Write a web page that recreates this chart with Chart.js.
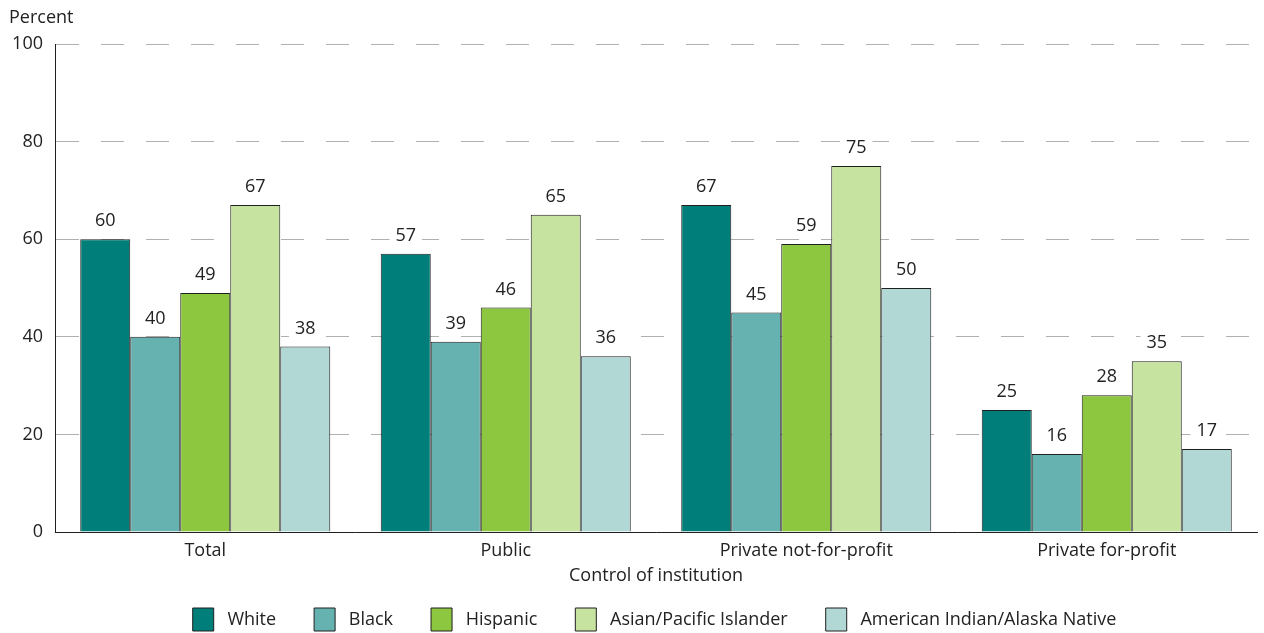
<!DOCTYPE html>
<html lang="en">
<head>
<meta charset="UTF-8">
<title>Percent by control of institution</title>
<script src="https://cdn.jsdelivr.net/npm/chart.js"></script>
<style>
  html, body { margin: 0; padding: 0; background: #fff; }
  #wrap { width: 1264px; height: 633px; position: relative; }
</style>
</head>
<body>
<div id="wrap"><canvas id="chart"></canvas></div>
<script>
const categories = ['Total', 'Public', 'Private not-for-profit', 'Private for-profit'];
const white    = [60, 57, 67, 25];
const black    = [40, 39, 45, 16];
const hispanic = [49, 46, 59, 28];
const asianPI  = [67, 65, 75, 35];
const aian     = [38, 36, 50, 17];
const yTicks   = [0, 20, 40, 60, 80, 100];

const FONT = "'Open Sans', sans-serif";
const SIZE = 18;
const INK = '#222';
const LEGEND_PAD = 38;

// value labels above bars, white backing breaks the grid line
const valueLabels = {
  id: 'valueLabels',
  afterDatasetsDraw(chart) {
    const ctx = chart.ctx;
    ctx.save();
    ctx.font = SIZE + 'px ' + FONT;
    ctx.textAlign = 'center';
    ctx.textBaseline = 'middle';
    chart.data.datasets.forEach((ds, i) => {
      chart.getDatasetMeta(i).data.forEach((bar, j) => {
        const txt = String(ds.data[j]);
        const w = ctx.measureText(txt).width + 12;
        ctx.fillStyle = '#fff';
        ctx.fillRect(bar.x - w / 2, bar.y - 29, w, 22);
        ctx.fillStyle = INK;
        ctx.fillText(txt, bar.x, bar.y - 18);
      });
    });
    ctx.restore();
  }
};

// axis headings drawn as text
const headings = {
  id: 'headings',
  afterDraw(chart) {
    const ctx = chart.ctx;
    const a = chart.chartArea;
    ctx.save();
    ctx.font = SIZE + 'px ' + FONT;
    ctx.fillStyle = INK;
    ctx.textBaseline = 'middle';
    ctx.fillText('Percent', 9, 18);
    ctx.textAlign = 'center';
    ctx.fillText('Control of institution', (a.left + a.right) / 2, 576);
    ctx.restore();
  }
};

// fixed legend height, items start at y=608, nudged right
const legendFit = {
  id: 'legendFit',
  afterInit(chart) {
    const lg = chart.legend;
    const orig = lg.fit;
    lg.fit = function () { orig.call(this); this.height = 55; };
  },
  afterLayout(chart) {
    const lg = chart.legend;
    lg.top = 608 - LEGEND_PAD;
    lg.bottom = chart.height;
    lg.height = lg.bottom - lg.top;
    lg.left += 26;
    lg.right += 26;
  }
};

const edge = '#1f1f1f';
function ds(label, data, color) {
  return { label, data, backgroundColor: color, borderColor: edge, borderWidth: 1 };
}

new Chart(document.getElementById('chart'), {
  type: 'bar',
  data: {
    labels: categories,
    datasets: [
      ds('White', white, '#007f7a'),
      ds('Black', black, '#66b2b0'),
      ds('Hispanic', hispanic, '#8dc63f'),
      ds('Asian/Pacific Islander', asianPI, '#c7e3a0'),
      ds('American Indian/Alaska Native', aian, '#b2d8d6')
    ]
  },
  options: {
    responsive: true,
    maintainAspectRatio: false,
    animation: false,
    layout: { padding: { top: 44, right: 7, left: 0, bottom: 0 } },
    datasets: { bar: { barPercentage: 1, categoryPercentage: 0.832 } },
    plugins: {
      legend: {
        position: 'bottom',
        labels: {
          font: { family: FONT, size: SIZE },
          color: INK,
          boxWidth: 21,
          boxHeight: 23,
          padding: LEGEND_PAD,
          generateLabels(chart) {
            return Chart.defaults.plugins.legend.labels.generateLabels(chart)
              .map(item => Object.assign(item, { text: ' ' + item.text }));
          }
        }
      },
      tooltip: { enabled: false }
    },
    scales: {
      x: {
        grid: { display: false },
        border: { color: edge, width: 1 },
        ticks: { font: { family: FONT, size: SIZE }, color: INK, padding: 0 },
        afterFit(scale) { scale.height = 46; }
      },
      y: {
        min: 0, max: 100,
        afterBuildTicks(scale) { scale.ticks = yTicks.map(v => ({ value: v })); },
        grid: { color: '#b0b0b0', lineWidth: 1, tickLength: 0 },
        border: { color: edge, width: 1, dash: [23, 22] },
        ticks: { font: { family: FONT, size: SIZE }, color: INK, padding: 12 },
        afterFit(scale) { scale.width = 55; }
      }
    }
  },
  plugins: [valueLabels, headings, legendFit]
});
</script>
</body>
</html>
